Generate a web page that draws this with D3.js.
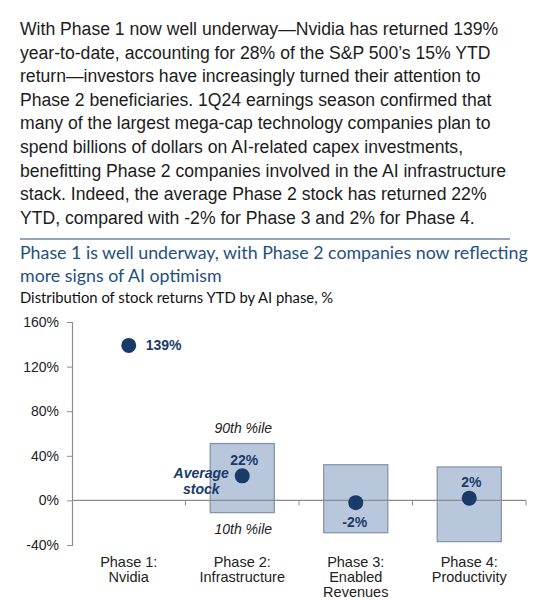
<!DOCTYPE html>
<html>
<head>
<meta charset="utf-8">
<script src="https://cdn.jsdelivr.net/npm/d3@7"></script>
<style>
  html, body { margin: 0; padding: 0; background: #fff; }
  svg { display: block; }
</style>
</head>
<body>
<svg id="chart" width="551" height="600"></svg>
<script>
// ---- text content ----
const paragraphLines = [
  "With Phase 1 now well underway\u2014Nvidia has returned 139%",
  "year-to-date, accounting for 28% of the S&P 500\u2019s 15% YTD",
  "return\u2014investors have increasingly turned their attention to",
  "Phase 2 beneficiaries. 1Q24 earnings season confirmed that",
  "many of the largest mega-cap technology companies plan to",
  "spend billions of dollars on AI-related capex investments,",
  "benefitting Phase 2 companies involved in the AI infrastructure",
  "stack. Indeed, the average Phase 2 stock has returned 22%",
  "YTD, compared with -2% for Phase 3 and 2% for Phase 4."
];
const titleLines = [
  "Phase 1 is well underway, with Phase 2 companies now reflecting",
  "more signs of AI optimism"
];
const subtitle = "Distribution of stock returns YTD by AI phase, %";

// ---- data ----
const categories = ["Phase 1", "Phase 2", "Phase 3", "Phase 4"];
const categoryLabels = [
  ["Phase 1:", "Nvidia"],
  ["Phase 2:", "Infrastructure"],
  ["Phase 3:", "Enabled", "Revenues"],
  ["Phase 4:", "Productivity"]
];
const averageReturn = [139, 22, -2, 2];
const pct90 = [null, 51, 32, 30];
const pct10 = [null, -11, -29, -37];
const labelSide = ["right", "above", "below", "above"];
const yTicks = [-40, 0, 40, 80, 120, 160];

// ---- drawing ----
const svg = d3.select("#chart");
const navy = "#1a3b6a";

// paragraph
svg.append("g").selectAll("text")
  .data(paragraphLines).join("text")
  .attr("x", 20)
  .attr("y", (d, i) => 35 + i * 23.6)
  .attr("font-family", "'Liberation Sans', Arial, sans-serif")
  .attr("font-size", 17.6)
  .attr("fill", "#1c1c1c")
  .text(d => d);

// rule
svg.append("line")
  .attr("x1", 20).attr("x2", 510)
  .attr("y1", 239).attr("y2", 239)
  .attr("stroke", "#6f86a6").attr("stroke-width", 1.6);

// title
svg.append("g").selectAll("text")
  .data(titleLines).join("text")
  .attr("x", 20)
  .attr("y", (d, i) => 259 + i * 22.5)
  .attr("font-family", "Lato, 'Open Sans', sans-serif")
  .attr("font-size", 17.8)
  .attr("fill", "#24507f")
  .text(d => d);

svg.append("text")
  .attr("x", 20).attr("y", 303)
  .attr("font-family", "Lato, 'Open Sans', sans-serif")
  .attr("font-size", 14.8)
  .attr("fill", "#111")
  .text(subtitle);

// scales
const x = d3.scaleBand().domain(categories).range([72, 526]).padding(0);
const y = d3.scaleLinear().domain([-40, 160]).range([545, 322]);
const boxW = x.bandwidth() * 0.565;
const axisColor = "#8c8c8c";

// y axis
const yAxis = svg.append("g")
  .attr("transform", "translate(72,0)")
  .call(d3.axisLeft(y).tickValues(yTicks).tickSize(5).tickPadding(8)
        .tickFormat(d => d + "%"));
yAxis.select(".domain").attr("stroke", axisColor).attr("stroke-width", 1.2);
yAxis.selectAll(".tick line").attr("stroke", axisColor);
yAxis.selectAll(".tick text")
  .attr("font-family", "'Liberation Sans', Arial, sans-serif")
  .attr("font-size", 14).attr("fill", "#222");

// boxes (10th-90th percentile)
const boxData = categories.map((c, i) => ({ c, lo: pct10[i], hi: pct90[i] }))
  .filter(d => d.lo !== null);
svg.append("g").selectAll("rect")
  .data(boxData).join("rect")
  .attr("x", d => x(d.c) + x.bandwidth() / 2 - boxW / 2)
  .attr("width", boxW)
  .attr("y", d => y(d.hi))
  .attr("height", d => y(d.lo) - y(d.hi))
  .attr("fill", "#b3c2da")
  .attr("fill-opacity", 0.92)
  .attr("stroke", "#8290a8")
  .attr("stroke-width", 1.2);

// x axis at zero
const xAxisG = svg.append("g").attr("transform", `translate(0,${y(0)})`);
xAxisG.append("line")
  .attr("x1", 72).attr("x2", 526)
  .attr("stroke", axisColor).attr("stroke-width", 1.3);
const boundaries = categories.map(c => x(c) + x.bandwidth());
xAxisG.selectAll("line.tk")
  .data(boundaries).join("line").attr("class", "tk")
  .attr("x1", d => d).attr("x2", d => d)
  .attr("y1", 0).attr("y2", 5)
  .attr("stroke", axisColor);

// dots
const pts = categories.map((c, i) => ({ c, v: averageReturn[i], side: labelSide[i] }));
svg.append("g").selectAll("circle")
  .data(pts).join("circle")
  .attr("cx", d => x(d.c) + x.bandwidth() / 2)
  .attr("cy", d => y(d.v))
  .attr("r", 7.5)
  .attr("fill", navy);

// value labels
svg.append("g").selectAll("text")
  .data(pts).join("text")
  .attr("x", d => {
    const cx = x(d.c) + x.bandwidth() / 2;
    return d.side === "right" ? cx + 17 : cx + (d.side === "above" ? 2 : -1);
  })
  .attr("y", d => {
    const cy = y(d.v);
    return d.side === "right" ? cy + 5 : d.side === "above" ? cy - 11 : cy + 24;
  })
  .attr("text-anchor", d => d.side === "right" ? "start" : "middle")
  .attr("font-family", "'Liberation Sans', Arial, sans-serif")
  .attr("font-size", 14).attr("font-weight", "bold")
  .attr("fill", navy)
  .text(d => d.v + "%");

// annotations for Phase 2
const p2 = x("Phase 2") + x.bandwidth() / 2;
const annoFont = "'Liberation Sans', Arial, sans-serif";
svg.append("text").attr("x", p2 + 1).attr("y", y(pct90[1]) - 11)
  .attr("text-anchor", "middle").attr("font-family", annoFont)
  .attr("font-size", 14).attr("font-style", "italic").attr("fill", "#222")
  .text("90th %ile");
svg.append("text").attr("x", p2 + 1).attr("y", y(pct10[1]) + 21)
  .attr("text-anchor", "middle").attr("font-family", annoFont)
  .attr("font-size", 14).attr("font-style", "italic").attr("fill", "#222")
  .text("10th %ile");
const avgLbl = svg.append("text").attr("text-anchor", "middle")
  .attr("font-family", annoFont).attr("font-size", 14)
  .attr("font-style", "italic").attr("font-weight", "bold").attr("fill", navy);
avgLbl.append("tspan").attr("x", p2 - 41).attr("y", y(averageReturn[1]) + 2).text("Average");
avgLbl.append("tspan").attr("x", p2 - 41).attr("y", y(averageReturn[1]) + 18).text("stock");

// category labels
const catG = svg.append("g").selectAll("text")
  .data(categories).join("text")
  .attr("text-anchor", "middle")
  .attr("font-family", "'Liberation Sans', Arial, sans-serif")
  .attr("font-size", 14.5).attr("fill", "#222");
catG.each(function(c, i) {
  const t = d3.select(this);
  categoryLabels[i].forEach((line, k) => {
    t.append("tspan")
      .attr("x", x(c) + x.bandwidth() / 2)
      .attr("y", 567 + k * 15)
      .text(line);
  });
});
</script>
</body>
</html>
